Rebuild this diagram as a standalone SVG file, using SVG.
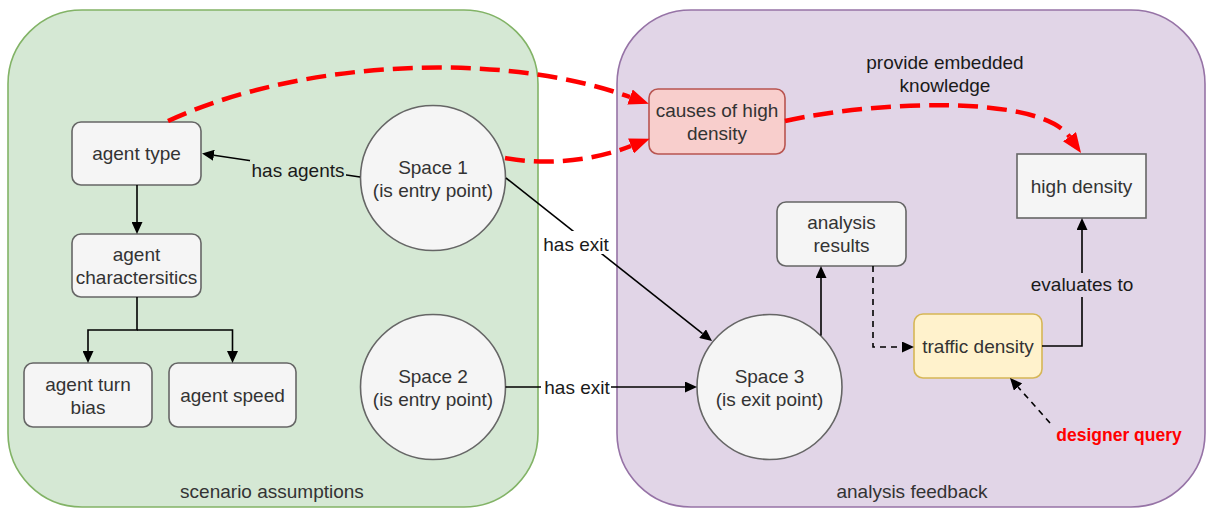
<svg xmlns="http://www.w3.org/2000/svg" width="1207" height="509" viewBox="0 0 1207 509">
  <style>
    .t { font-family: "Liberation Sans", Arial, sans-serif; font-size: 19px; fill: #333333; text-anchor: middle; }
    .lbl { font-family: "Liberation Sans", Arial, sans-serif; font-size: 19px; fill: #1a1a1a; text-anchor: middle; }
    .q { font-family: "Liberation Sans", Arial, sans-serif; font-size: 17.5px; font-weight: bold; fill: #ff0000; text-anchor: middle; }
    .box { fill: #f5f5f5; stroke: #666666; stroke-width: 1.6; }
    .edge { fill: none; stroke: #000000; stroke-width: 1.6; }
    .dash { fill: none; stroke: #000000; stroke-width: 1.6; stroke-dasharray: 6 5; }
    .red { fill: none; stroke: #ff0000; stroke-width: 4.5; stroke-dasharray: 20 9; }
  </style>
  <defs>
    <marker id="arrow" markerUnits="userSpaceOnUse" markerWidth="12" markerHeight="11" refX="0" refY="5.5" orient="auto">
      <path d="M0,0 L12,5.5 L0,11 z" fill="#000000"/>
    </marker>
    <marker id="redArrow" markerUnits="userSpaceOnUse" markerWidth="20" markerHeight="16" refX="0" refY="8" orient="auto">
      <path d="M0,0 L20,8 L0,16 z" fill="#ff0000"/>
    </marker>
  </defs>

  <!-- containers -->
  <g id="scenario-assumptions">
    <rect x="8" y="10" width="530" height="497" rx="74" ry="74" fill="#d5e8d4" stroke="#82b366" stroke-width="1.6"/>
    <text class="t" x="272" y="498">scenario assumptions</text>
  </g>
  <g id="analysis-feedback">
    <rect x="617" y="10" width="588" height="497" rx="74" ry="74" fill="#e1d5e7" stroke="#9673a6" stroke-width="1.6"/>
    <text class="t" x="912" y="498">analysis feedback</text>
  </g>

  <!-- nodes -->
  <g id="agent-type">
    <rect class="box" x="72" y="122" width="129" height="63" rx="9"/>
    <text class="t" x="136.5" y="160">agent type</text>
  </g>
  <g id="agent-characteristics">
    <rect class="box" x="72" y="234" width="129" height="63" rx="9"/>
    <text class="t" x="136.5" y="261">agent</text>
    <text class="t" x="136.5" y="284">charactersitics</text>
  </g>
  <g id="agent-turn-bias">
    <rect class="box" x="24" y="363" width="128" height="64" rx="9"/>
    <text class="t" x="88" y="391">agent turn</text>
    <text class="t" x="88" y="414">bias</text>
  </g>
  <g id="agent-speed">
    <rect class="box" x="169" y="363" width="127" height="64" rx="9"/>
    <text class="t" x="232.5" y="402">agent speed</text>
  </g>
  <g id="space-1">
    <ellipse class="box" cx="433" cy="178" rx="72.5" ry="72.5"/>
    <text class="t" x="433" y="174">Space 1</text>
    <text class="t" x="433" y="197">(is entry point)</text>
  </g>
  <g id="space-2">
    <ellipse class="box" cx="433" cy="387" rx="72.5" ry="72.5"/>
    <text class="t" x="433" y="383">Space 2</text>
    <text class="t" x="433" y="406">(is entry point)</text>
  </g>
  <g id="space-3">
    <ellipse class="box" cx="769.5" cy="387" rx="72.5" ry="72.5"/>
    <text class="t" x="769.5" y="383">Space 3</text>
    <text class="t" x="769.5" y="406">(is exit point)</text>
  </g>
  <g id="causes-of-high-density">
    <rect x="649" y="89" width="136" height="65" rx="9" fill="#f8cecc" stroke="#b85450" stroke-width="1.6"/>
    <text class="t" x="717" y="117">causes of high</text>
    <text class="t" x="717" y="140">density</text>
  </g>
  <g id="high-density">
    <rect class="box" x="1017" y="154" width="129" height="64"/>
    <text class="t" x="1081.5" y="192.5">high density</text>
  </g>
  <g id="analysis-results">
    <rect class="box" x="777" y="202" width="129" height="64" rx="9"/>
    <text class="t" x="841.5" y="229">analysis</text>
    <text class="t" x="841.5" y="252">results</text>
  </g>
  <g id="traffic-density">
    <rect x="914" y="314" width="128" height="64" rx="9" fill="#fff2cc" stroke="#d6b656" stroke-width="1.6"/>
    <text class="t" x="978" y="353">traffic density</text>
  </g>
  <g id="designer-query">
    <text class="q" x="1119" y="441">designer query</text>
  </g>

  <!-- connectors -->
  <g id="connectors">
    <!-- knowledge links -->
    <path class="red" d="M168,121 C300,60 500,50 630,97" marker-end="url(#redArrow)"/>
    <path class="red" d="M505,158 C550,166 595,160 631,146" marker-end="url(#redArrow)"/>
    <path class="red" d="M785,121 C880,100 1040,95 1069.5,136.7" marker-end="url(#redArrow)"/>
    <text class="lbl" x="945" y="69">provide embedded</text>
    <text class="lbl" x="945" y="92">knowledge</text>

    <!-- has agents -->
    <path class="edge" d="M360,177 L213.9,155.3" marker-end="url(#arrow)"/>
    <rect x="250" y="160" width="96" height="20" fill="#d5e8d4"/>
    <text class="lbl" x="298" y="176.5">has agents</text>

    <!-- agent hierarchy -->
    <path class="edge" d="M137,185 V222" marker-end="url(#arrow)"/>
    <path class="edge" d="M137,297 V330 H88 V351" marker-end="url(#arrow)"/>
    <path class="edge" d="M137,330 H232.5 V351" marker-end="url(#arrow)"/>

    <!-- has exit (Space 1) -->
    <path class="edge" d="M506,178 L702.6,333.6" marker-end="url(#arrow)"/>
    <rect x="541" y="231" width="70" height="23" fill="#ffffff"/>
    <text class="lbl" x="576" y="251">has exit</text>

    <!-- has exit (Space 2) -->
    <path class="edge" d="M505.5,387 H685" marker-end="url(#arrow)"/>
    <rect x="541" y="376" width="70" height="22" fill="#ffffff"/>
    <text class="lbl" x="577" y="394">has exit</text>

    <!-- Space 3 to analysis results -->
    <path class="edge" d="M821,335.5 V278" marker-end="url(#arrow)"/>

    <!-- analysis results to traffic density -->
    <path class="dash" d="M873,266 V347 H902" marker-end="url(#arrow)"/>

    <!-- traffic density evaluates to high density -->
    <path class="edge" d="M1042,346 H1082 V230" marker-end="url(#arrow)"/>
    <rect x="1029" y="273" width="106" height="24" fill="#e1d5e7"/>
    <text class="lbl" x="1082" y="291">evaluates to</text>

    <!-- designer query to traffic density -->
    <path class="dash" d="M1050,423 L1018,387" marker-end="url(#arrow)"/>
  </g>
</svg>
